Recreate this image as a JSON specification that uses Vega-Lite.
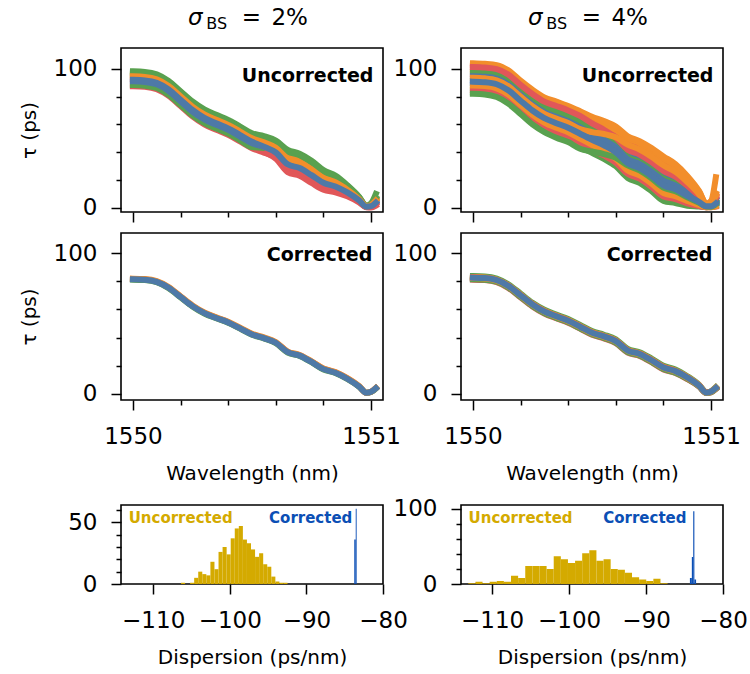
{
"$schema":"https://vega.github.io/schema/vega-lite/v6.json",
"padding":{"left":18,"top":6,"right":0,"bottom":0},
"background":"white",
"datasets":{
"ul":[
{"s":1,"x":1550,"y":87.5},{"s":1,"x":1550.05,"y":87.1},{"s":1,"x":1550.1,"y":85.4},{"s":1,"x":1550.15,"y":80.6},{"s":1,"x":1550.2,"y":73.2},{"s":1,"x":1550.25,"y":65.8},{"s":1,"x":1550.3,"y":60.1},{"s":1,"x":1550.35,"y":56.2},{"s":1,"x":1550.4,"y":52.6},{"s":1,"x":1550.45,"y":47.8},{"s":1,"x":1550.5,"y":42.9},{"s":1,"x":1550.55,"y":39.7},{"s":1,"x":1550.6,"y":36.4},{"s":1,"x":1550.65,"y":28.9},{"s":1,"x":1550.7,"y":26.2},{"s":1,"x":1550.75,"y":21.1},{"s":1,"x":1550.8,"y":15.9},{"s":1,"x":1550.85,"y":13.6},{"s":1,"x":1550.9,"y":9.9},{"s":1,"x":1550.95,"y":4.7},{"s":1,"x":1550.98,"y":0.6},{"s":1,"x":1551,"y":0.8},{"s":1,"x":1551.02,"y":2.8},
{"s":2,"x":1550,"y":98.2},{"s":2,"x":1550.05,"y":97.8},{"s":2,"x":1550.1,"y":96.1},{"s":2,"x":1550.15,"y":91.3},{"s":2,"x":1550.2,"y":83.9},{"s":2,"x":1550.25,"y":76.5},{"s":2,"x":1550.3,"y":70.8},{"s":2,"x":1550.35,"y":66.9},{"s":2,"x":1550.4,"y":63.3},{"s":2,"x":1550.45,"y":58.5},{"s":2,"x":1550.5,"y":53.6},{"s":2,"x":1550.55,"y":51.6},{"s":2,"x":1550.6,"y":48.4},{"s":2,"x":1550.65,"y":41.7},{"s":2,"x":1550.7,"y":39.0},{"s":2,"x":1550.75,"y":33.9},{"s":2,"x":1550.8,"y":27.1},{"s":2,"x":1550.85,"y":23.2},{"s":2,"x":1550.9,"y":16.3},{"s":2,"x":1550.95,"y":7.9},{"s":2,"x":1550.98,"y":1.4},{"s":2,"x":1551,"y":3.2},{"s":2,"x":1551.02,"y":10.0},
{"s":3,"x":1550,"y":96.6},{"s":3,"x":1550.05,"y":96.2},{"s":3,"x":1550.1,"y":94.5},{"s":3,"x":1550.15,"y":89.7},{"s":3,"x":1550.2,"y":82.3},{"s":3,"x":1550.25,"y":74.9},{"s":3,"x":1550.3,"y":69.2},{"s":3,"x":1550.35,"y":65.3},{"s":3,"x":1550.4,"y":61.7},{"s":3,"x":1550.45,"y":56.9},{"s":3,"x":1550.5,"y":52.0},{"s":3,"x":1550.55,"y":49.0},{"s":3,"x":1550.6,"y":44.9},{"s":3,"x":1550.65,"y":36.9},{"s":3,"x":1550.7,"y":34.2},{"s":3,"x":1550.75,"y":29.1},{"s":3,"x":1550.8,"y":22.9},{"s":3,"x":1550.85,"y":19.6},{"s":3,"x":1550.9,"y":13.9},{"s":3,"x":1550.95,"y":6.7},{"s":3,"x":1550.98,"y":1.1},{"s":3,"x":1551,"y":2.3},{"s":3,"x":1551.02,"y":5.8},
{"s":4,"x":1550,"y":93.8},{"s":4,"x":1550.05,"y":93.4},{"s":4,"x":1550.1,"y":91.7},{"s":4,"x":1550.15,"y":86.9},{"s":4,"x":1550.2,"y":79.5},{"s":4,"x":1550.25,"y":72.1},{"s":4,"x":1550.3,"y":66.4},{"s":4,"x":1550.35,"y":62.5},{"s":4,"x":1550.4,"y":58.9},{"s":4,"x":1550.45,"y":54.1},{"s":4,"x":1550.5,"y":49.2},{"s":4,"x":1550.55,"y":45.5},{"s":4,"x":1550.6,"y":40.9},{"s":4,"x":1550.65,"y":32.1},{"s":4,"x":1550.7,"y":29.4},{"s":4,"x":1550.75,"y":24.3},{"s":4,"x":1550.8,"y":18.7},{"s":4,"x":1550.85,"y":16.0},{"s":4,"x":1550.9,"y":11.5},{"s":4,"x":1550.95,"y":5.5},{"s":4,"x":1550.98,"y":0.8},{"s":4,"x":1551,"y":1.4},{"s":4,"x":1551.02,"y":4.0},
{"s":5,"x":1550,"y":89.4},{"s":5,"x":1550.05,"y":89.0},{"s":5,"x":1550.1,"y":87.3},{"s":5,"x":1550.15,"y":82.5},{"s":5,"x":1550.2,"y":75.1},{"s":5,"x":1550.25,"y":67.7},{"s":5,"x":1550.3,"y":62.0},{"s":5,"x":1550.35,"y":58.1},{"s":5,"x":1550.4,"y":54.5},{"s":5,"x":1550.45,"y":49.7},{"s":5,"x":1550.5,"y":44.8},{"s":5,"x":1550.55,"y":40.3},{"s":5,"x":1550.6,"y":35.3},{"s":5,"x":1550.65,"y":25.7},{"s":5,"x":1550.7,"y":23.0},{"s":5,"x":1550.75,"y":17.9},{"s":5,"x":1550.8,"y":13.1},{"s":5,"x":1550.85,"y":11.2},{"s":5,"x":1550.9,"y":8.3},{"s":5,"x":1550.95,"y":3.9},{"s":5,"x":1550.98,"y":0.4},{"s":5,"x":1551,"y":0.2},{"s":5,"x":1551.02,"y":1.6},
{"s":6,"x":1550,"y":88.3},{"s":6,"x":1550.05,"y":87.9},{"s":6,"x":1550.1,"y":86.2},{"s":6,"x":1550.15,"y":81.4},{"s":6,"x":1550.2,"y":74.0},{"s":6,"x":1550.25,"y":66.6},{"s":6,"x":1550.3,"y":60.9},{"s":6,"x":1550.35,"y":57.0},{"s":6,"x":1550.4,"y":53.4},{"s":6,"x":1550.45,"y":48.6},{"s":6,"x":1550.5,"y":43.7},{"s":6,"x":1550.55,"y":43.1},{"s":6,"x":1550.6,"y":42.8},{"s":6,"x":1550.65,"y":39.3},{"s":6,"x":1550.7,"y":36.6},{"s":6,"x":1550.75,"y":31.5},{"s":6,"x":1550.8,"y":25.0},{"s":6,"x":1550.85,"y":21.4},{"s":6,"x":1550.9,"y":15.1},{"s":6,"x":1550.95,"y":7.3},{"s":6,"x":1550.98,"y":1.3},{"s":6,"x":1551,"y":2.8},{"s":6,"x":1551.02,"y":6.7},
{"s":7,"x":1550,"y":95.5},{"s":7,"x":1550.05,"y":95.1},{"s":7,"x":1550.1,"y":93.4},{"s":7,"x":1550.15,"y":88.6},{"s":7,"x":1550.2,"y":81.2},{"s":7,"x":1550.25,"y":73.8},{"s":7,"x":1550.3,"y":68.1},{"s":7,"x":1550.35,"y":64.2},{"s":7,"x":1550.4,"y":60.6},{"s":7,"x":1550.45,"y":55.8},{"s":7,"x":1550.5,"y":50.9},{"s":7,"x":1550.55,"y":48.6},{"s":7,"x":1550.6,"y":45.4},{"s":7,"x":1550.65,"y":38.5},{"s":7,"x":1550.7,"y":35.8},{"s":7,"x":1550.75,"y":30.7},{"s":7,"x":1550.8,"y":24.3},{"s":7,"x":1550.85,"y":20.8},{"s":7,"x":1550.9,"y":14.7},{"s":7,"x":1550.95,"y":7.1},{"s":7,"x":1550.98,"y":1.2},{"s":7,"x":1551,"y":2.6},{"s":7,"x":1551.02,"y":6.4},
{"s":8,"x":1550,"y":91.0},{"s":8,"x":1550.05,"y":90.6},{"s":8,"x":1550.1,"y":88.9},{"s":8,"x":1550.15,"y":84.1},{"s":8,"x":1550.2,"y":76.7},{"s":8,"x":1550.25,"y":69.3},{"s":8,"x":1550.3,"y":63.6},{"s":8,"x":1550.35,"y":59.7},{"s":8,"x":1550.4,"y":56.1},{"s":8,"x":1550.45,"y":51.3},{"s":8,"x":1550.5,"y":46.4},{"s":8,"x":1550.55,"y":44.0},{"s":8,"x":1550.6,"y":41.2},{"s":8,"x":1550.65,"y":34.5},{"s":8,"x":1550.7,"y":31.8},{"s":8,"x":1550.75,"y":26.7},{"s":8,"x":1550.8,"y":20.8},{"s":8,"x":1550.85,"y":17.8},{"s":8,"x":1550.9,"y":12.7},{"s":8,"x":1550.95,"y":6.1},{"s":8,"x":1550.98,"y":1.0},{"s":8,"x":1551,"y":1.9},{"s":8,"x":1551.02,"y":4.9},
{"s":9,"x":1550,"y":92.7},{"s":9,"x":1550.05,"y":92.3},{"s":9,"x":1550.1,"y":90.6},{"s":9,"x":1550.15,"y":85.8},{"s":9,"x":1550.2,"y":78.4},{"s":9,"x":1550.25,"y":71.0},{"s":9,"x":1550.3,"y":65.3},{"s":9,"x":1550.35,"y":61.4},{"s":9,"x":1550.4,"y":57.8},{"s":9,"x":1550.45,"y":53.0},{"s":9,"x":1550.5,"y":48.1},{"s":9,"x":1550.55,"y":44.0},{"s":9,"x":1550.6,"y":39.1},{"s":9,"x":1550.65,"y":29.7},{"s":9,"x":1550.7,"y":27.0},{"s":9,"x":1550.75,"y":21.9},{"s":9,"x":1550.8,"y":16.6},{"s":9,"x":1550.85,"y":14.2},{"s":9,"x":1550.9,"y":10.3},{"s":9,"x":1550.95,"y":4.9},{"s":9,"x":1550.98,"y":0.7},{"s":9,"x":1551,"y":1.0},{"s":9,"x":1551.02,"y":3.1},
{"s":10,"x":1550,"y":97.4},{"s":10,"x":1550.05,"y":97.0},{"s":10,"x":1550.1,"y":95.3},{"s":10,"x":1550.15,"y":90.5},{"s":10,"x":1550.2,"y":83.1},{"s":10,"x":1550.25,"y":75.7},{"s":10,"x":1550.3,"y":70.0},{"s":10,"x":1550.35,"y":66.1},{"s":10,"x":1550.4,"y":62.5},{"s":10,"x":1550.45,"y":57.7},{"s":10,"x":1550.5,"y":52.8},{"s":10,"x":1550.55,"y":50.6},{"s":10,"x":1550.6,"y":47.4},{"s":10,"x":1550.65,"y":40.5},{"s":10,"x":1550.7,"y":37.8},{"s":10,"x":1550.75,"y":32.7},{"s":10,"x":1550.8,"y":26.1},{"s":10,"x":1550.85,"y":22.3},{"s":10,"x":1550.9,"y":15.7},{"s":10,"x":1550.95,"y":7.6},{"s":10,"x":1550.98,"y":1.3},{"s":10,"x":1551,"y":3.0},{"s":10,"x":1551.02,"y":7.2},
{"s":11,"x":1550,"y":94.6},{"s":11,"x":1550.05,"y":94.2},{"s":11,"x":1550.1,"y":92.5},{"s":11,"x":1550.15,"y":87.7},{"s":11,"x":1550.2,"y":80.3},{"s":11,"x":1550.25,"y":72.9},{"s":11,"x":1550.3,"y":67.2},{"s":11,"x":1550.35,"y":63.3},{"s":11,"x":1550.4,"y":59.7},{"s":11,"x":1550.45,"y":54.9},{"s":11,"x":1550.5,"y":50.0},{"s":11,"x":1550.55,"y":47.1},{"s":11,"x":1550.6,"y":43.2},{"s":11,"x":1550.65,"y":35.3},{"s":11,"x":1550.7,"y":32.6},{"s":11,"x":1550.75,"y":27.5},{"s":11,"x":1550.8,"y":21.5},{"s":11,"x":1550.85,"y":18.4},{"s":11,"x":1550.9,"y":13.1},{"s":11,"x":1550.95,"y":6.3},{"s":11,"x":1550.98,"y":1.0},{"s":11,"x":1551,"y":2.0},{"s":11,"x":1551.02,"y":5.2},
{"s":12,"x":1550,"y":92.1},{"s":12,"x":1550.05,"y":91.7},{"s":12,"x":1550.1,"y":90.0},{"s":12,"x":1550.15,"y":85.2},{"s":12,"x":1550.2,"y":77.8},{"s":12,"x":1550.25,"y":70.4},{"s":12,"x":1550.3,"y":64.7},{"s":12,"x":1550.35,"y":60.8},{"s":12,"x":1550.4,"y":57.2},{"s":12,"x":1550.45,"y":52.4},{"s":12,"x":1550.5,"y":47.5},{"s":12,"x":1550.55,"y":44.0},{"s":12,"x":1550.6,"y":39.8},{"s":12,"x":1550.65,"y":31.3},{"s":12,"x":1550.7,"y":28.6},{"s":12,"x":1550.75,"y":23.5},{"s":12,"x":1550.8,"y":18.0},{"s":12,"x":1550.85,"y":15.4},{"s":12,"x":1550.9,"y":11.1},{"s":12,"x":1550.95,"y":5.3},{"s":12,"x":1550.98,"y":0.8},{"s":12,"x":1551,"y":1.2},{"s":12,"x":1551.02,"y":3.7}
],
"ur":[
{"s":1,"x":1550,"y":102.9},{"s":1,"x":1550.05,"y":102.5},{"s":1,"x":1550.1,"y":101.6},{"s":1,"x":1550.15,"y":97.6},{"s":1,"x":1550.2,"y":90.3},{"s":1,"x":1550.25,"y":83.8},{"s":1,"x":1550.3,"y":78.3},{"s":1,"x":1550.35,"y":75.2},{"s":1,"x":1550.4,"y":72.0},{"s":1,"x":1550.45,"y":68.2},{"s":1,"x":1550.5,"y":63.5},{"s":1,"x":1550.55,"y":59.7},{"s":1,"x":1550.6,"y":54.9},{"s":1,"x":1550.65,"y":47.0},{"s":1,"x":1550.7,"y":43.5},{"s":1,"x":1550.75,"y":38.4},{"s":1,"x":1550.8,"y":32.2},{"s":1,"x":1550.85,"y":27.3},{"s":1,"x":1550.9,"y":19.7},{"s":1,"x":1550.95,"y":10.2},{"s":1,"x":1550.98,"y":2.6},{"s":1,"x":1551,"y":4.1},{"s":1,"x":1551.02,"y":9.2},
{"s":2,"x":1550,"y":83.1},{"s":2,"x":1550.05,"y":82.7},{"s":2,"x":1550.1,"y":80.9},{"s":2,"x":1550.15,"y":76.0},{"s":2,"x":1550.2,"y":68.7},{"s":2,"x":1550.25,"y":61.3},{"s":2,"x":1550.3,"y":55.8},{"s":2,"x":1550.35,"y":51.8},{"s":2,"x":1550.4,"y":48.6},{"s":2,"x":1550.45,"y":43.9},{"s":2,"x":1550.5,"y":39.5},{"s":2,"x":1550.55,"y":35.2},{"s":2,"x":1550.6,"y":29.9},{"s":2,"x":1550.65,"y":21.5},{"s":2,"x":1550.7,"y":18.0},{"s":2,"x":1550.75,"y":12.0},{"s":2,"x":1550.8,"y":5.0},{"s":2,"x":1550.85,"y":3.5},{"s":2,"x":1550.9,"y":1.5},{"s":2,"x":1550.95,"y":1.0},{"s":2,"x":1550.98,"y":0.5},{"s":2,"x":1551,"y":0.8},{"s":2,"x":1551.02,"y":1.5},
{"s":3,"x":1550,"y":99.6},{"s":3,"x":1550.05,"y":99.2},{"s":3,"x":1550.1,"y":98.1},{"s":3,"x":1550.15,"y":94.0},{"s":3,"x":1550.2,"y":86.7},{"s":3,"x":1550.25,"y":80.0},{"s":3,"x":1550.3,"y":74.5},{"s":3,"x":1550.35,"y":71.3},{"s":3,"x":1550.4,"y":68.1},{"s":3,"x":1550.45,"y":64.1},{"s":3,"x":1550.5,"y":61.1},{"s":3,"x":1550.55,"y":59.0},{"s":3,"x":1550.6,"y":56.0},{"s":3,"x":1550.65,"y":50.0},{"s":3,"x":1550.7,"y":46.5},{"s":3,"x":1550.75,"y":41.5},{"s":3,"x":1550.8,"y":35.4},{"s":3,"x":1550.85,"y":30.1},{"s":3,"x":1550.9,"y":21.9},{"s":3,"x":1550.95,"y":11.4},{"s":3,"x":1550.98,"y":2.9},{"s":3,"x":1551,"y":4.7},{"s":3,"x":1551.02,"y":10.4},
{"s":4,"x":1550,"y":89.7},{"s":4,"x":1550.05,"y":89.3},{"s":4,"x":1550.1,"y":87.8},{"s":4,"x":1550.15,"y":83.2},{"s":4,"x":1550.2,"y":75.9},{"s":4,"x":1550.25,"y":68.8},{"s":4,"x":1550.3,"y":63.3},{"s":4,"x":1550.35,"y":59.6},{"s":4,"x":1550.4,"y":56.4},{"s":4,"x":1550.45,"y":52.0},{"s":4,"x":1550.5,"y":47.3},{"s":4,"x":1550.55,"y":42.9},{"s":4,"x":1550.6,"y":37.5},{"s":4,"x":1550.65,"y":29.0},{"s":4,"x":1550.7,"y":25.5},{"s":4,"x":1550.75,"y":19.8},{"s":4,"x":1550.8,"y":13.0},{"s":4,"x":1550.85,"y":10.5},{"s":4,"x":1550.9,"y":6.5},{"s":4,"x":1550.95,"y":3.0},{"s":4,"x":1550.98,"y":0.8},{"s":4,"x":1551,"y":0.5},{"s":4,"x":1551.02,"y":2.0},
{"s":5,"x":1550,"y":96.3},{"s":5,"x":1550.05,"y":95.9},{"s":5,"x":1550.1,"y":94.7},{"s":5,"x":1550.15,"y":90.4},{"s":5,"x":1550.2,"y":83.1},{"s":5,"x":1550.25,"y":76.3},{"s":5,"x":1550.3,"y":70.8},{"s":5,"x":1550.35,"y":67.4},{"s":5,"x":1550.4,"y":64.2},{"s":5,"x":1550.45,"y":60.1},{"s":5,"x":1550.5,"y":56.7},{"s":5,"x":1550.55,"y":54.1},{"s":5,"x":1550.6,"y":50.5},{"s":5,"x":1550.65,"y":44.0},{"s":5,"x":1550.7,"y":40.5},{"s":5,"x":1550.75,"y":35.3},{"s":5,"x":1550.8,"y":29.0},{"s":5,"x":1550.85,"y":24.5},{"s":5,"x":1550.9,"y":17.5},{"s":5,"x":1550.95,"y":9.0},{"s":5,"x":1550.98,"y":2.3},{"s":5,"x":1551,"y":3.5},{"s":5,"x":1551.02,"y":8.0},
{"s":6,"x":1550,"y":86.4},{"s":6,"x":1550.05,"y":86.0},{"s":6,"x":1550.1,"y":84.3},{"s":6,"x":1550.15,"y":79.6},{"s":6,"x":1550.2,"y":72.3},{"s":6,"x":1550.25,"y":65.0},{"s":6,"x":1550.3,"y":59.5},{"s":6,"x":1550.35,"y":55.7},{"s":6,"x":1550.4,"y":52.5},{"s":6,"x":1550.45,"y":47.9},{"s":6,"x":1550.5,"y":45.3},{"s":6,"x":1550.55,"y":42.9},{"s":6,"x":1550.6,"y":39.7},{"s":6,"x":1550.65,"y":33.5},{"s":6,"x":1550.7,"y":30.0},{"s":6,"x":1550.75,"y":24.4},{"s":6,"x":1550.8,"y":17.8},{"s":6,"x":1550.85,"y":14.7},{"s":6,"x":1550.9,"y":9.8},{"s":6,"x":1550.95,"y":4.8},{"s":6,"x":1550.98,"y":1.2},{"s":6,"x":1551,"y":1.4},{"s":6,"x":1551.02,"y":3.8},
{"s":7,"x":1550,"y":104.0},{"s":7,"x":1550.05,"y":103.6},{"s":7,"x":1550.1,"y":102.7},{"s":7,"x":1550.15,"y":98.8},{"s":7,"x":1550.2,"y":91.5},{"s":7,"x":1550.25,"y":85.0},{"s":7,"x":1550.3,"y":79.5},{"s":7,"x":1550.35,"y":76.5},{"s":7,"x":1550.4,"y":73.3},{"s":7,"x":1550.45,"y":69.5},{"s":7,"x":1550.5,"y":65.5},{"s":7,"x":1550.55,"y":62.5},{"s":7,"x":1550.6,"y":58.5},{"s":7,"x":1550.65,"y":51.5},{"s":7,"x":1550.7,"y":48.0},{"s":7,"x":1550.75,"y":43.0},{"s":7,"x":1550.8,"y":37.0},{"s":7,"x":1550.85,"y":31.5},{"s":7,"x":1550.9,"y":23.0},{"s":7,"x":1550.95,"y":12.0},{"s":7,"x":1550.98,"y":3.0},{"s":7,"x":1551,"y":5.0},{"s":7,"x":1551.02,"y":22.0},
{"s":8,"x":1550,"y":91.9},{"s":8,"x":1550.05,"y":91.5},{"s":8,"x":1550.1,"y":90.1},{"s":8,"x":1550.15,"y":85.6},{"s":8,"x":1550.2,"y":78.3},{"s":8,"x":1550.25,"y":71.3},{"s":8,"x":1550.3,"y":65.8},{"s":8,"x":1550.35,"y":62.2},{"s":8,"x":1550.4,"y":59.0},{"s":8,"x":1550.45,"y":54.7},{"s":8,"x":1550.5,"y":51.7},{"s":8,"x":1550.55,"y":49.2},{"s":8,"x":1550.6,"y":45.8},{"s":8,"x":1550.65,"y":39.5},{"s":8,"x":1550.7,"y":36.0},{"s":8,"x":1550.75,"y":30.6},{"s":8,"x":1550.8,"y":24.2},{"s":8,"x":1550.85,"y":20.3},{"s":8,"x":1550.9,"y":14.2},{"s":8,"x":1550.95,"y":7.2},{"s":8,"x":1550.98,"y":1.8},{"s":8,"x":1551,"y":2.6},{"s":8,"x":1551.02,"y":6.2},
{"s":9,"x":1550,"y":84.8},{"s":9,"x":1550.05,"y":84.4},{"s":9,"x":1550.1,"y":82.6},{"s":9,"x":1550.15,"y":77.8},{"s":9,"x":1550.2,"y":70.5},{"s":9,"x":1550.25,"y":63.1},{"s":9,"x":1550.3,"y":57.6},{"s":9,"x":1550.35,"y":53.8},{"s":9,"x":1550.4,"y":50.6},{"s":9,"x":1550.45,"y":45.9},{"s":9,"x":1550.5,"y":41.7},{"s":9,"x":1550.55,"y":37.7},{"s":9,"x":1550.6,"y":32.6},{"s":9,"x":1550.65,"y":24.5},{"s":9,"x":1550.7,"y":21.0},{"s":9,"x":1550.75,"y":15.1},{"s":9,"x":1550.8,"y":8.2},{"s":9,"x":1550.85,"y":6.3},{"s":9,"x":1550.9,"y":3.2},{"s":9,"x":1550.95,"y":1.2},{"s":9,"x":1550.98,"y":0.5},{"s":9,"x":1551,"y":0.6},{"s":9,"x":1551.02,"y":1.0},
{"s":10,"x":1550,"y":98.0},{"s":10,"x":1550.05,"y":97.6},{"s":10,"x":1550.1,"y":96.4},{"s":10,"x":1550.15,"y":92.2},{"s":10,"x":1550.2,"y":84.9},{"s":10,"x":1550.25,"y":78.1},{"s":10,"x":1550.3,"y":72.6},{"s":10,"x":1550.35,"y":69.4},{"s":10,"x":1550.4,"y":66.2},{"s":10,"x":1550.45,"y":62.1},{"s":10,"x":1550.5,"y":56.6},{"s":10,"x":1550.55,"y":51.7},{"s":10,"x":1550.6,"y":45.6},{"s":10,"x":1550.65,"y":36.5},{"s":10,"x":1550.7,"y":33.0},{"s":10,"x":1550.75,"y":27.5},{"s":10,"x":1550.8,"y":21.0},{"s":10,"x":1550.85,"y":17.5},{"s":10,"x":1550.9,"y":12.0},{"s":10,"x":1550.95,"y":6.0},{"s":10,"x":1550.98,"y":1.5},{"s":10,"x":1551,"y":2.0},{"s":10,"x":1551.02,"y":5.0},
{"s":11,"x":1550,"y":88.0},{"s":11,"x":1550.05,"y":87.6},{"s":11,"x":1550.1,"y":86.0},{"s":11,"x":1550.15,"y":81.4},{"s":11,"x":1550.2,"y":74.1},{"s":11,"x":1550.25,"y":66.9},{"s":11,"x":1550.3,"y":61.4},{"s":11,"x":1550.35,"y":57.6},{"s":11,"x":1550.4,"y":54.4},{"s":11,"x":1550.45,"y":49.9},{"s":11,"x":1550.5,"y":45.3},{"s":11,"x":1550.55,"y":40.8},{"s":11,"x":1550.6,"y":35.3},{"s":11,"x":1550.65,"y":26.8},{"s":11,"x":1550.7,"y":23.3},{"s":11,"x":1550.75,"y":17.4},{"s":11,"x":1550.8,"y":10.6},{"s":11,"x":1550.85,"y":8.4},{"s":11,"x":1550.9,"y":4.9},{"s":11,"x":1550.95,"y":2.1},{"s":11,"x":1550.98,"y":0.5},{"s":11,"x":1551,"y":0.5},{"s":11,"x":1551.02,"y":1.1},
{"s":12,"x":1550,"y":94.7},{"s":12,"x":1550.05,"y":94.3},{"s":12,"x":1550.1,"y":92.9},{"s":12,"x":1550.15,"y":88.6},{"s":12,"x":1550.2,"y":81.3},{"s":12,"x":1550.25,"y":74.4},{"s":12,"x":1550.3,"y":68.9},{"s":12,"x":1550.35,"y":65.5},{"s":12,"x":1550.4,"y":62.3},{"s":12,"x":1550.45,"y":58.0},{"s":12,"x":1550.5,"y":53.2},{"s":12,"x":1550.55,"y":48.9},{"s":12,"x":1550.6,"y":43.5},{"s":12,"x":1550.65,"y":35.0},{"s":12,"x":1550.7,"y":31.5},{"s":12,"x":1550.75,"y":26.0},{"s":12,"x":1550.8,"y":19.4},{"s":12,"x":1550.85,"y":16.1},{"s":12,"x":1550.9,"y":10.9},{"s":12,"x":1550.95,"y":5.4},{"s":12,"x":1550.98,"y":1.4},{"s":12,"x":1551,"y":1.7},{"s":12,"x":1551.02,"y":4.4},
{"s":13,"x":1550,"y":101.3},{"s":13,"x":1550.05,"y":100.9},{"s":13,"x":1550.1,"y":99.8},{"s":13,"x":1550.15,"y":95.8},{"s":13,"x":1550.2,"y":88.5},{"s":13,"x":1550.25,"y":81.9},{"s":13,"x":1550.3,"y":76.4},{"s":13,"x":1550.35,"y":73.3},{"s":13,"x":1550.4,"y":70.1},{"s":13,"x":1550.45,"y":66.1},{"s":13,"x":1550.5,"y":60.8},{"s":13,"x":1550.55,"y":56.2},{"s":13,"x":1550.6,"y":50.5},{"s":13,"x":1550.65,"y":41.8},{"s":13,"x":1550.7,"y":38.3},{"s":13,"x":1550.75,"y":32.9},{"s":13,"x":1550.8,"y":26.6},{"s":13,"x":1550.85,"y":22.4},{"s":13,"x":1550.9,"y":15.9},{"s":13,"x":1550.95,"y":8.1},{"s":13,"x":1550.98,"y":2.0},{"s":13,"x":1551,"y":3.1},{"s":13,"x":1551.02,"y":7.1},
{"s":14,"x":1550,"y":82.0},{"s":14,"x":1550.05,"y":81.6},{"s":14,"x":1550.1,"y":79.7},{"s":14,"x":1550.15,"y":74.8},{"s":14,"x":1550.2,"y":67.5},{"s":14,"x":1550.25,"y":60.0},{"s":14,"x":1550.3,"y":54.5},{"s":14,"x":1550.35,"y":50.5},{"s":14,"x":1550.4,"y":47.3},{"s":14,"x":1550.45,"y":42.5},{"s":14,"x":1550.5,"y":40.5},{"s":14,"x":1550.55,"y":38.7},{"s":14,"x":1550.6,"y":36.0},{"s":14,"x":1550.65,"y":30.5},{"s":14,"x":1550.7,"y":27.0},{"s":14,"x":1550.75,"y":21.3},{"s":14,"x":1550.8,"y":14.6},{"s":14,"x":1550.85,"y":11.9},{"s":14,"x":1550.9,"y":7.6},{"s":14,"x":1550.95,"y":3.6},{"s":14,"x":1550.98,"y":0.9},{"s":14,"x":1551,"y":0.8},{"s":14,"x":1551.02,"y":2.6},
{"s":15,"x":1550,"y":93.6},{"s":15,"x":1550.05,"y":93.2},{"s":15,"x":1550.1,"y":91.8},{"s":15,"x":1550.15,"y":87.4},{"s":15,"x":1550.2,"y":80.1},{"s":15,"x":1550.25,"y":73.1},{"s":15,"x":1550.3,"y":67.6},{"s":15,"x":1550.35,"y":64.2},{"s":15,"x":1550.4,"y":61.0},{"s":15,"x":1550.45,"y":56.7},{"s":15,"x":1550.5,"y":54.5},{"s":15,"x":1550.55,"y":53.1},{"s":15,"x":1550.6,"y":50.7},{"s":15,"x":1550.65,"y":45.5},{"s":15,"x":1550.7,"y":42.0},{"s":15,"x":1550.75,"y":36.8},{"s":15,"x":1550.8,"y":30.6},{"s":15,"x":1550.85,"y":25.9},{"s":15,"x":1550.9,"y":18.6},{"s":15,"x":1550.95,"y":9.6},{"s":15,"x":1550.98,"y":2.4},{"s":15,"x":1551,"y":3.8},{"s":15,"x":1551.02,"y":8.6},
{"s":16,"x":1550,"y":90.8},{"s":16,"x":1550.05,"y":90.4},{"s":16,"x":1550.1,"y":88.9},{"s":16,"x":1550.15,"y":84.4},{"s":16,"x":1550.2,"y":77.1},{"s":16,"x":1550.25,"y":70.0},{"s":16,"x":1550.3,"y":64.5},{"s":16,"x":1550.35,"y":60.9},{"s":16,"x":1550.4,"y":57.7},{"s":16,"x":1550.45,"y":53.3},{"s":16,"x":1550.5,"y":49.0},{"s":16,"x":1550.55,"y":45.0},{"s":16,"x":1550.6,"y":40.0},{"s":16,"x":1550.65,"y":32.0},{"s":16,"x":1550.7,"y":28.5},{"s":16,"x":1550.75,"y":22.9},{"s":16,"x":1550.8,"y":16.2},{"s":16,"x":1550.85,"y":13.3},{"s":16,"x":1550.9,"y":8.7},{"s":16,"x":1550.95,"y":4.2},{"s":16,"x":1550.98,"y":1.1},{"s":16,"x":1551,"y":1.1},{"s":16,"x":1551.02,"y":3.2}
],
"cl":[
{"s":1,"x":1550,"y":81.5},{"s":1,"x":1550.05,"y":81.2},{"s":1,"x":1550.1,"y":79.7},{"s":1,"x":1550.15,"y":75.5},{"s":1,"x":1550.2,"y":69.0},{"s":1,"x":1550.25,"y":62.5},{"s":1,"x":1550.3,"y":57.5},{"s":1,"x":1550.35,"y":54.1},{"s":1,"x":1550.4,"y":50.9},{"s":1,"x":1550.45,"y":46.7},{"s":1,"x":1550.5,"y":42.4},{"s":1,"x":1550.55,"y":39.8},{"s":1,"x":1550.6,"y":36.5},{"s":1,"x":1550.65,"y":29.8},{"s":1,"x":1550.7,"y":27.4},{"s":1,"x":1550.75,"y":22.9},{"s":1,"x":1550.8,"y":17.8},{"s":1,"x":1550.85,"y":15.3},{"s":1,"x":1550.9,"y":11.0},{"s":1,"x":1550.95,"y":5.3},{"s":1,"x":1550.98,"y":0.8},{"s":1,"x":1551,"y":1.6},{"s":1,"x":1551.02,"y":4.1},
{"s":2,"x":1550,"y":81.1},{"s":2,"x":1550.05,"y":80.8},{"s":2,"x":1550.1,"y":79.3},{"s":2,"x":1550.15,"y":75.1},{"s":2,"x":1550.2,"y":68.6},{"s":2,"x":1550.25,"y":62.1},{"s":2,"x":1550.3,"y":57.1},{"s":2,"x":1550.35,"y":53.7},{"s":2,"x":1550.4,"y":50.5},{"s":2,"x":1550.45,"y":46.3},{"s":2,"x":1550.5,"y":42.0},{"s":2,"x":1550.55,"y":39.4},{"s":2,"x":1550.6,"y":36.1},{"s":2,"x":1550.65,"y":29.4},{"s":2,"x":1550.7,"y":27.0},{"s":2,"x":1550.75,"y":22.5},{"s":2,"x":1550.8,"y":17.4},{"s":2,"x":1550.85,"y":14.9},{"s":2,"x":1550.9,"y":10.6},{"s":2,"x":1550.95,"y":5.1},{"s":2,"x":1550.98,"y":0.8},{"s":2,"x":1551,"y":1.4},{"s":2,"x":1551.02,"y":3.9},
{"s":3,"x":1550,"y":81.8},{"s":3,"x":1550.05,"y":81.5},{"s":3,"x":1550.1,"y":80.0},{"s":3,"x":1550.15,"y":75.8},{"s":3,"x":1550.2,"y":69.3},{"s":3,"x":1550.25,"y":62.8},{"s":3,"x":1550.3,"y":57.8},{"s":3,"x":1550.35,"y":54.4},{"s":3,"x":1550.4,"y":51.2},{"s":3,"x":1550.45,"y":47.0},{"s":3,"x":1550.5,"y":42.7},{"s":3,"x":1550.55,"y":40.1},{"s":3,"x":1550.6,"y":36.8},{"s":3,"x":1550.65,"y":30.1},{"s":3,"x":1550.7,"y":27.7},{"s":3,"x":1550.75,"y":23.2},{"s":3,"x":1550.8,"y":18.1},{"s":3,"x":1550.85,"y":15.6},{"s":3,"x":1550.9,"y":11.2},{"s":3,"x":1550.95,"y":5.5},{"s":3,"x":1550.98,"y":0.9},{"s":3,"x":1551,"y":1.6},{"s":3,"x":1551.02,"y":4.2},
{"s":4,"x":1550,"y":81.3},{"s":4,"x":1550.05,"y":81.0},{"s":4,"x":1550.1,"y":79.5},{"s":4,"x":1550.15,"y":75.3},{"s":4,"x":1550.2,"y":68.8},{"s":4,"x":1550.25,"y":62.3},{"s":4,"x":1550.3,"y":57.3},{"s":4,"x":1550.35,"y":53.9},{"s":4,"x":1550.4,"y":50.7},{"s":4,"x":1550.45,"y":46.5},{"s":4,"x":1550.5,"y":42.2},{"s":4,"x":1550.55,"y":39.6},{"s":4,"x":1550.6,"y":36.3},{"s":4,"x":1550.65,"y":29.6},{"s":4,"x":1550.7,"y":27.2},{"s":4,"x":1550.75,"y":22.7},{"s":4,"x":1550.8,"y":17.6},{"s":4,"x":1550.85,"y":15.1},{"s":4,"x":1550.9,"y":10.8},{"s":4,"x":1550.95,"y":5.2},{"s":4,"x":1550.98,"y":0.8},{"s":4,"x":1551,"y":1.5},{"s":4,"x":1551.02,"y":4.0}
],
"cr":[
{"s":1,"x":1550,"y":81.1},{"s":1,"x":1550.05,"y":80.8},{"s":1,"x":1550.1,"y":79.3},{"s":1,"x":1550.15,"y":75.1},{"s":1,"x":1550.2,"y":68.6},{"s":1,"x":1550.25,"y":62.1},{"s":1,"x":1550.3,"y":57.1},{"s":1,"x":1550.35,"y":53.7},{"s":1,"x":1550.4,"y":50.5},{"s":1,"x":1550.45,"y":46.3},{"s":1,"x":1550.5,"y":42.0},{"s":1,"x":1550.55,"y":39.4},{"s":1,"x":1550.6,"y":36.1},{"s":1,"x":1550.65,"y":29.4},{"s":1,"x":1550.7,"y":27.0},{"s":1,"x":1550.75,"y":22.5},{"s":1,"x":1550.8,"y":17.4},{"s":1,"x":1550.85,"y":14.8},{"s":1,"x":1550.9,"y":10.5},{"s":1,"x":1550.95,"y":5.1},{"s":1,"x":1550.98,"y":0.7},{"s":1,"x":1551,"y":1.2},{"s":1,"x":1551.02,"y":3.5},
{"s":2,"x":1550,"y":83.7},{"s":2,"x":1550.05,"y":83.4},{"s":2,"x":1550.1,"y":81.9},{"s":2,"x":1550.15,"y":77.7},{"s":2,"x":1550.2,"y":71.2},{"s":2,"x":1550.25,"y":64.7},{"s":2,"x":1550.3,"y":59.7},{"s":2,"x":1550.35,"y":56.3},{"s":2,"x":1550.4,"y":53.1},{"s":2,"x":1550.45,"y":48.9},{"s":2,"x":1550.5,"y":44.6},{"s":2,"x":1550.55,"y":42.0},{"s":2,"x":1550.6,"y":38.7},{"s":2,"x":1550.65,"y":32.0},{"s":2,"x":1550.7,"y":29.6},{"s":2,"x":1550.75,"y":25.1},{"s":2,"x":1550.8,"y":20.0},{"s":2,"x":1550.85,"y":17.4},{"s":2,"x":1550.9,"y":12.6},{"s":2,"x":1550.95,"y":6.4},{"s":2,"x":1550.98,"y":1.2},{"s":2,"x":1551,"y":2.0},{"s":2,"x":1551.02,"y":4.8},
{"s":3,"x":1550,"y":83.0},{"s":3,"x":1550.05,"y":82.7},{"s":3,"x":1550.1,"y":81.2},{"s":3,"x":1550.15,"y":77.0},{"s":3,"x":1550.2,"y":70.5},{"s":3,"x":1550.25,"y":64.0},{"s":3,"x":1550.3,"y":59.0},{"s":3,"x":1550.35,"y":55.6},{"s":3,"x":1550.4,"y":52.4},{"s":3,"x":1550.45,"y":48.2},{"s":3,"x":1550.5,"y":43.9},{"s":3,"x":1550.55,"y":41.3},{"s":3,"x":1550.6,"y":38.0},{"s":3,"x":1550.65,"y":31.3},{"s":3,"x":1550.7,"y":28.9},{"s":3,"x":1550.75,"y":24.4},{"s":3,"x":1550.8,"y":19.3},{"s":3,"x":1550.85,"y":16.7},{"s":3,"x":1550.9,"y":12.1},{"s":3,"x":1550.95,"y":6.1},{"s":3,"x":1550.98,"y":1.0},{"s":3,"x":1551,"y":1.8},{"s":3,"x":1551.02,"y":4.5},
{"s":4,"x":1550,"y":81.8},{"s":4,"x":1550.05,"y":81.5},{"s":4,"x":1550.1,"y":80.0},{"s":4,"x":1550.15,"y":75.8},{"s":4,"x":1550.2,"y":69.3},{"s":4,"x":1550.25,"y":62.8},{"s":4,"x":1550.3,"y":57.8},{"s":4,"x":1550.35,"y":54.4},{"s":4,"x":1550.4,"y":51.2},{"s":4,"x":1550.45,"y":47.0},{"s":4,"x":1550.5,"y":42.7},{"s":4,"x":1550.55,"y":40.1},{"s":4,"x":1550.6,"y":36.8},{"s":4,"x":1550.65,"y":30.1},{"s":4,"x":1550.7,"y":27.7},{"s":4,"x":1550.75,"y":23.2},{"s":4,"x":1550.8,"y":18.1},{"s":4,"x":1550.85,"y":15.5},{"s":4,"x":1550.9,"y":11.1},{"s":4,"x":1550.95,"y":5.5},{"s":4,"x":1550.98,"y":0.8},{"s":4,"x":1551,"y":1.5},{"s":4,"x":1551.02,"y":3.9},
{"s":5,"x":1550,"y":82.6},{"s":5,"x":1550.05,"y":82.3},{"s":5,"x":1550.1,"y":80.8},{"s":5,"x":1550.15,"y":76.6},{"s":5,"x":1550.2,"y":70.1},{"s":5,"x":1550.25,"y":63.6},{"s":5,"x":1550.3,"y":58.6},{"s":5,"x":1550.35,"y":55.2},{"s":5,"x":1550.4,"y":52.0},{"s":5,"x":1550.45,"y":47.8},{"s":5,"x":1550.5,"y":43.5},{"s":5,"x":1550.55,"y":40.9},{"s":5,"x":1550.6,"y":37.6},{"s":5,"x":1550.65,"y":30.9},{"s":5,"x":1550.7,"y":28.5},{"s":5,"x":1550.75,"y":24.0},{"s":5,"x":1550.8,"y":18.9},{"s":5,"x":1550.85,"y":16.3},{"s":5,"x":1550.9,"y":11.7},{"s":5,"x":1550.95,"y":5.9},{"s":5,"x":1550.98,"y":1.0},{"s":5,"x":1551,"y":1.7},{"s":5,"x":1551.02,"y":4.3},
{"s":6,"x":1550,"y":81.4},{"s":6,"x":1550.05,"y":81.1},{"s":6,"x":1550.1,"y":79.6},{"s":6,"x":1550.15,"y":75.4},{"s":6,"x":1550.2,"y":68.9},{"s":6,"x":1550.25,"y":62.4},{"s":6,"x":1550.3,"y":57.4},{"s":6,"x":1550.35,"y":54.0},{"s":6,"x":1550.4,"y":50.8},{"s":6,"x":1550.45,"y":46.6},{"s":6,"x":1550.5,"y":42.3},{"s":6,"x":1550.55,"y":39.7},{"s":6,"x":1550.6,"y":36.4},{"s":6,"x":1550.65,"y":29.7},{"s":6,"x":1550.7,"y":27.3},{"s":6,"x":1550.75,"y":22.8},{"s":6,"x":1550.8,"y":17.7},{"s":6,"x":1550.85,"y":15.1},{"s":6,"x":1550.9,"y":10.8},{"s":6,"x":1550.95,"y":5.3},{"s":6,"x":1550.98,"y":0.7},{"s":6,"x":1551,"y":1.3},{"s":6,"x":1551.02,"y":3.7},
{"s":7,"x":1550,"y":82.2},{"s":7,"x":1550.05,"y":81.9},{"s":7,"x":1550.1,"y":80.4},{"s":7,"x":1550.15,"y":76.2},{"s":7,"x":1550.2,"y":69.7},{"s":7,"x":1550.25,"y":63.2},{"s":7,"x":1550.3,"y":58.2},{"s":7,"x":1550.35,"y":54.8},{"s":7,"x":1550.4,"y":51.6},{"s":7,"x":1550.45,"y":47.4},{"s":7,"x":1550.5,"y":43.1},{"s":7,"x":1550.55,"y":40.5},{"s":7,"x":1550.6,"y":37.2},{"s":7,"x":1550.65,"y":30.5},{"s":7,"x":1550.7,"y":28.1},{"s":7,"x":1550.75,"y":23.6},{"s":7,"x":1550.8,"y":18.5},{"s":7,"x":1550.85,"y":15.9},{"s":7,"x":1550.9,"y":11.4},{"s":7,"x":1550.95,"y":5.7},{"s":7,"x":1550.98,"y":0.9},{"s":7,"x":1551,"y":1.6},{"s":7,"x":1551.02,"y":4.1},
{"s":8,"x":1550,"y":82.5},{"s":8,"x":1550.05,"y":82.2},{"s":8,"x":1550.1,"y":80.7},{"s":8,"x":1550.15,"y":76.5},{"s":8,"x":1550.2,"y":70.0},{"s":8,"x":1550.25,"y":63.5},{"s":8,"x":1550.3,"y":58.5},{"s":8,"x":1550.35,"y":55.1},{"s":8,"x":1550.4,"y":51.9},{"s":8,"x":1550.45,"y":47.7},{"s":8,"x":1550.5,"y":43.4},{"s":8,"x":1550.55,"y":40.8},{"s":8,"x":1550.6,"y":37.5},{"s":8,"x":1550.65,"y":30.8},{"s":8,"x":1550.7,"y":28.4},{"s":8,"x":1550.75,"y":23.9},{"s":8,"x":1550.8,"y":18.8},{"s":8,"x":1550.85,"y":16.2},{"s":8,"x":1550.9,"y":11.7},{"s":8,"x":1550.95,"y":5.8},{"s":8,"x":1550.98,"y":0.9},{"s":8,"x":1551,"y":1.7},{"s":8,"x":1551.02,"y":4.2}
],
"hl":[
{"g":"U","a":-106.36,"b":-105.83,"n":1},{"g":"U","a":-105.18,"b":-104.65,"n":1},
{"g":"U","a":-104.65,"b":-104.12,"n":5},{"g":"U","a":-104.12,"b":-103.59,"n":10},{"g":"U","a":-103.59,"b":-103.06,"n":8},{"g":"U","a":-103.06,"b":-102.53,"n":7},{"g":"U","a":-102.53,"b":-102.0,"n":18},{"g":"U","a":-102.0,"b":-101.47,"n":12},{"g":"U","a":-101.47,"b":-100.94,"n":26},{"g":"U","a":-100.94,"b":-100.41,"n":30},{"g":"U","a":-100.41,"b":-99.88,"n":24},{"g":"U","a":-99.88,"b":-99.35,"n":37},{"g":"U","a":-99.35,"b":-98.82,"n":45},{"g":"U","a":-98.82,"b":-98.29,"n":47},{"g":"U","a":-98.29,"b":-97.76,"n":36},{"g":"U","a":-97.76,"b":-97.23,"n":33},{"g":"U","a":-97.23,"b":-96.7,"n":28},{"g":"U","a":-96.7,"b":-96.17,"n":22},{"g":"U","a":-96.17,"b":-95.64,"n":25},{"g":"U","a":-95.64,"b":-95.11,"n":16},{"g":"U","a":-95.11,"b":-94.58,"n":14},{"g":"U","a":-94.58,"b":-94.05,"n":6},{"g":"U","a":-94.05,"b":-93.52,"n":2},{"g":"U","a":-93.52,"b":-92.99,"n":1},{"g":"U","a":-92.99,"b":-92.46,"n":1},
{"g":"C","a":-83.75,"b":-83.56,"n":36},{"g":"C","a":-83.56,"b":-83.44,"n":61}
],
"hr":[
{"g":"U","a":-113.1,"b":-112.175,"n":1},{"g":"U","a":-112.175,"b":-111.25,"n":3},{"g":"U","a":-111.25,"b":-110.325,"n":1},{"g":"U","a":-110.325,"b":-109.4,"n":3},{"g":"U","a":-109.4,"b":-108.475,"n":4},{"g":"U","a":-108.475,"b":-107.55,"n":3},{"g":"U","a":-107.55,"b":-106.625,"n":11},{"g":"U","a":-106.625,"b":-105.7,"n":8},{"g":"U","a":-105.7,"b":-104.775,"n":24},{"g":"U","a":-104.775,"b":-103.85,"n":24},{"g":"U","a":-103.85,"b":-102.925,"n":24},{"g":"U","a":-102.925,"b":-102.0,"n":20},{"g":"U","a":-102.0,"b":-101.075,"n":37},{"g":"U","a":-101.075,"b":-100.15,"n":33},{"g":"U","a":-100.15,"b":-99.225,"n":28},{"g":"U","a":-99.225,"b":-98.3,"n":31},{"g":"U","a":-98.3,"b":-97.375,"n":41},{"g":"U","a":-97.375,"b":-96.45,"n":45},{"g":"U","a":-96.45,"b":-95.525,"n":31},{"g":"U","a":-95.525,"b":-94.6,"n":33},{"g":"U","a":-94.6,"b":-93.675,"n":20},{"g":"U","a":-93.675,"b":-92.75,"n":19},{"g":"U","a":-92.75,"b":-91.825,"n":15},{"g":"U","a":-91.825,"b":-90.9,"n":9},{"g":"U","a":-90.9,"b":-89.975,"n":6},{"g":"U","a":-89.975,"b":-89.05,"n":4},{"g":"U","a":-89.05,"b":-88.125,"n":7},{"g":"U","a":-88.125,"b":-87.2,"n":1},
{"g":"C","a":-84.3,"b":-84.05,"n":8},{"g":"C","a":-84.05,"b":-83.87,"n":36},{"g":"C","a":-83.87,"b":-83.72,"n":97},{"g":"C","a":-83.72,"b":-83.5,"n":6}
]
},
"concat":[
{"width":262,"height":164,"layer":[
 {"data":{"name":"ul"},"mark":{"type":"line","strokeWidth":6,"strokeCap":"square","strokeJoin":"round","interpolate":"monotone"},
  "encoding":{
   "x":{"field":"x","type":"quantitative","scale":{"domain":[1549.95,1551.05],"nice":false,"zero":false},"axis":{"values":[1550,1550.2,1550.4,1550.6,1550.8,1551],"tickCount":30,"labels":false,"title":null,"labelOverlap":false,"tickSize":{"condition":{"test":"datum.value==1550||datum.value==1551","value":10},"value":5}}},
   "y":{"field":"y","type":"quantitative","scale":{"domain":[-3,115],"nice":false,"zero":false},"axis":{"values":[0,20,40,60,80,100],"tickCount":30,"labelExpr":"datum.value==0||datum.value==100?datum.label:''","labelOverlap":false,"labelPadding":14,"title":"τ  (ps)","tickSize":{"condition":{"test":"datum.value==0||datum.value==100","value":10},"value":5}}},
   "color":{"field":"s","type":"nominal","scale":{"range":["#e15759","#59a14f","#f28e2b","#4e79a7"]},"legend":null}}},
 {"data":{"values":[{}]},"mark":{"type":"text","text":"Uncorrected","align":"right","baseline":"alphabetic","fontSize":19,"fontWeight":"bold"},"encoding":{"x":{"datum":1551.01},"y":{"datum":90.4}}},
 {"data":{"values":[{}]},"mark":{"type":"text","text":"σ","align":"center","baseline":"alphabetic","fontSize":23,"fontStyle":"italic"},"encoding":{"x":{"datum":1550.262},"y":{"datum":131.2}}},
 {"data":{"values":[{}]},"mark":{"type":"text","text":"BS","align":"center","baseline":"alphabetic","fontSize":16},"encoding":{"x":{"datum":1550.352},"y":{"datum":128.4}}},
 {"data":{"values":[{}]},"mark":{"type":"text","text":"=","align":"center","baseline":"alphabetic","fontSize":23},"encoding":{"x":{"datum":1550.497},"y":{"datum":131.2}}},
 {"data":{"values":[{}]},"mark":{"type":"text","text":"2%","align":"center","baseline":"alphabetic","fontSize":23},"encoding":{"x":{"datum":1550.658},"y":{"datum":131.2}}}
]},
{"width":262,"height":164,"layer":[
 {"data":{"name":"ur"},"mark":{"type":"line","strokeWidth":6,"strokeCap":"square","strokeJoin":"round","interpolate":"monotone"},
  "encoding":{
   "x":{"field":"x","type":"quantitative","scale":{"domain":[1549.95,1551.05],"nice":false,"zero":false},"axis":{"values":[1550,1550.2,1550.4,1550.6,1550.8,1551],"tickCount":30,"labels":false,"title":null,"labelOverlap":false,"tickSize":{"condition":{"test":"datum.value==1550||datum.value==1551","value":10},"value":5}}},
   "y":{"field":"y","type":"quantitative","scale":{"domain":[-3,115],"nice":false,"zero":false},"axis":{"values":[0,20,40,60,80,100],"tickCount":30,"labelExpr":"datum.value==0||datum.value==100?datum.label:''","labelOverlap":false,"labelPadding":14,"title":null,"tickSize":{"condition":{"test":"datum.value==0||datum.value==100","value":10},"value":5}}},
   "color":{"field":"s","type":"nominal","scale":{"range":["#e15759","#59a14f","#f28e2b","#4e79a7"]},"legend":null}}},
 {"data":{"values":[{}]},"mark":{"type":"text","text":"Uncorrected","align":"right","baseline":"alphabetic","fontSize":19,"fontWeight":"bold"},"encoding":{"x":{"datum":1551.01},"y":{"datum":90.4}}},
 {"data":{"values":[{}]},"mark":{"type":"text","text":"σ","align":"center","baseline":"alphabetic","fontSize":23,"fontStyle":"italic"},"encoding":{"x":{"datum":1550.262},"y":{"datum":131.2}}},
 {"data":{"values":[{}]},"mark":{"type":"text","text":"BS","align":"center","baseline":"alphabetic","fontSize":16},"encoding":{"x":{"datum":1550.352},"y":{"datum":128.4}}},
 {"data":{"values":[{}]},"mark":{"type":"text","text":"=","align":"center","baseline":"alphabetic","fontSize":23},"encoding":{"x":{"datum":1550.497},"y":{"datum":131.2}}},
 {"data":{"values":[{}]},"mark":{"type":"text","text":"4%","align":"center","baseline":"alphabetic","fontSize":23},"encoding":{"x":{"datum":1550.658},"y":{"datum":131.2}}}
]},
{"width":262,"height":167,"layer":[
 {"data":{"name":"cl"},"mark":{"type":"line","strokeWidth":6,"strokeCap":"square","strokeJoin":"round","interpolate":"monotone"},
  "encoding":{
   "x":{"field":"x","type":"quantitative","scale":{"domain":[1549.95,1551.05],"nice":false,"zero":false},"axis":{"values":[1550,1550.2,1550.4,1550.6,1550.8,1551],"tickCount":30,"labelExpr":"datum.value==1550?'1550':datum.value==1551?'1551':''","labelOverlap":false,"labelPadding":15,"title":"Wavelength (nm)","tickSize":{"condition":{"test":"datum.value==1550||datum.value==1551","value":10},"value":5}}},
   "y":{"field":"y","type":"quantitative","scale":{"domain":[-4.3,114.2],"nice":false,"zero":false},"axis":{"values":[0,20,40,60,80,100],"tickCount":30,"labelExpr":"datum.value==0||datum.value==100?datum.label:''","labelOverlap":false,"labelPadding":14,"title":"τ  (ps)","tickSize":{"condition":{"test":"datum.value==0||datum.value==100","value":10},"value":5}}},
   "color":{"field":"s","type":"nominal","scale":{"range":["#e15759","#59a14f","#f28e2b","#4e79a7"]},"legend":null}}},
 {"data":{"values":[{}]},"mark":{"type":"text","text":"Corrected","align":"right","baseline":"alphabetic","fontSize":19,"fontWeight":"bold"},"encoding":{"x":{"datum":1551.005},"y":{"datum":94.5}}}
]},
{"width":262,"height":167,"layer":[
 {"data":{"name":"cr"},"mark":{"type":"line","strokeWidth":6,"strokeCap":"square","strokeJoin":"round","interpolate":"monotone"},
  "encoding":{
   "x":{"field":"x","type":"quantitative","scale":{"domain":[1549.95,1551.05],"nice":false,"zero":false},"axis":{"values":[1550,1550.2,1550.4,1550.6,1550.8,1551],"tickCount":30,"labelExpr":"datum.value==1550?'1550':datum.value==1551?'1551':''","labelOverlap":false,"labelPadding":15,"title":"Wavelength (nm)","tickSize":{"condition":{"test":"datum.value==1550||datum.value==1551","value":10},"value":5}}},
   "y":{"field":"y","type":"quantitative","scale":{"domain":[-4.3,114.2],"nice":false,"zero":false},"axis":{"values":[0,20,40,60,80,100],"tickCount":30,"labelExpr":"datum.value==0||datum.value==100?datum.label:''","labelOverlap":false,"labelPadding":14,"title":null,"tickSize":{"condition":{"test":"datum.value==0||datum.value==100","value":10},"value":5}}},
   "color":{"field":"s","type":"nominal","scale":{"range":["#e15759","#59a14f","#f28e2b","#4e79a7"]},"legend":null}}},
 {"data":{"values":[{}]},"mark":{"type":"text","text":"Corrected","align":"right","baseline":"alphabetic","fontSize":19,"fontWeight":"bold"},"encoding":{"x":{"datum":1551.005},"y":{"datum":94.5}}}
]},
{"width":262,"height":63,"view":{"stroke":null},"data":{"values":[{}]},"mark":{"type":"point","opacity":0}},
{"width":262,"height":63,"view":{"stroke":null},"data":{"values":[{}]},"mark":{"type":"point","opacity":0}},
{"width":262,"height":79,"layer":[
 {"data":{"name":"hl"},"mark":{"type":"bar"},
  "encoding":{
   "x":{"field":"a","type":"quantitative","scale":{"domain":[-114.2,-80],"nice":false,"zero":false},"axis":{"values":[-110,-100,-90,-80],"tickCount":30,"labelOverlap":false,"labelPadding":15,"title":"Dispersion (ps/nm)","tickSize":{"condition":{"test":"true","value":10},"value":10}}},
   "x2":{"field":"b"},
   "y":{"field":"n","type":"quantitative","scale":{"domain":[0,64],"nice":false},"axis":{"values":[0,10,20,30,40,50,60],"tickCount":30,"labelExpr":"datum.value==0||datum.value==50?datum.label:''","labelOverlap":false,"labelPadding":14,"title":null,"tickSize":{"condition":{"test":"datum.value==0||datum.value==50","value":10},"value":5}}},
   "y2":{"datum":0},
   "color":{"field":"g","type":"nominal","scale":{"domain":["U","C"],"range":["#d4aa00","#0b4fb5"]},"legend":null}}},
 {"data":{"values":[{}]},"mark":{"type":"text","text":"Uncorrected","align":"left","baseline":"alphabetic","fontSize":15,"fontWeight":"bold","color":"#d4aa00"},"encoding":{"x":{"datum":-113.2},"y":{"datum":49.2}}},
 {"data":{"values":[{}]},"mark":{"type":"text","text":"Corrected","align":"right","baseline":"alphabetic","fontSize":15,"fontWeight":"bold","color":"#0b4fb5"},"encoding":{"x":{"datum":-84.0},"y":{"datum":49.2}}}
]},
{"width":262,"height":79,"layer":[
 {"data":{"name":"hr"},"mark":{"type":"bar"},
  "encoding":{
   "x":{"field":"a","type":"quantitative","scale":{"domain":[-114.05,-80],"nice":false,"zero":false},"axis":{"values":[-110,-100,-90,-80],"tickCount":30,"labelOverlap":false,"labelPadding":15,"title":"Dispersion (ps/nm)","tickSize":{"condition":{"test":"true","value":10},"value":10}}},
   "x2":{"field":"b"},
   "y":{"field":"n","type":"quantitative","scale":{"domain":[0,105.3],"nice":false},"axis":{"values":[0,20,40,60,80,100],"tickCount":30,"labelExpr":"datum.value==0||datum.value==100?datum.label:''","labelOverlap":false,"labelPadding":14,"title":null,"tickSize":{"condition":{"test":"datum.value==0||datum.value==100","value":10},"value":5}}},
   "y2":{"datum":0},
   "color":{"field":"g","type":"nominal","scale":{"domain":["U","C"],"range":["#d4aa00","#0b4fb5"]},"legend":null}}},
 {"data":{"values":[{}]},"mark":{"type":"text","text":"Uncorrected","align":"left","baseline":"alphabetic","fontSize":15,"fontWeight":"bold","color":"#d4aa00"},"encoding":{"x":{"datum":-113.07},"y":{"datum":81}}},
 {"data":{"values":[{}]},"mark":{"type":"text","text":"Corrected","align":"right","baseline":"alphabetic","fontSize":15,"fontWeight":"bold","color":"#0b4fb5"},"encoding":{"x":{"datum":-84.74},"y":{"datum":81}}}
]}
],
"columns":2,
"spacing":{"row":21,"column":78},
"bounds":"flush",
"resolve":{"scale":{"color":"independent"}},
"config":{
 "view":{"stroke":"black","strokeWidth":1.6},
 "axis":{"labelFont":"DejaVu Sans","labelFontSize":23,"labelColor":"black","titleFont":"DejaVu Sans","titleFontSize":20,"titleFontWeight":"normal","titleColor":"black","tickColor":"black","tickWidth":1.5,"domain":false,"grid":false,"labelFlush":false,"labelOverlap":false,"labelPadding":18},
 "axisX":{"titlePadding":15},
 "axisY":{"titlePadding":14},
 "text":{"font":"DejaVu Sans","color":"black"}
}
}
